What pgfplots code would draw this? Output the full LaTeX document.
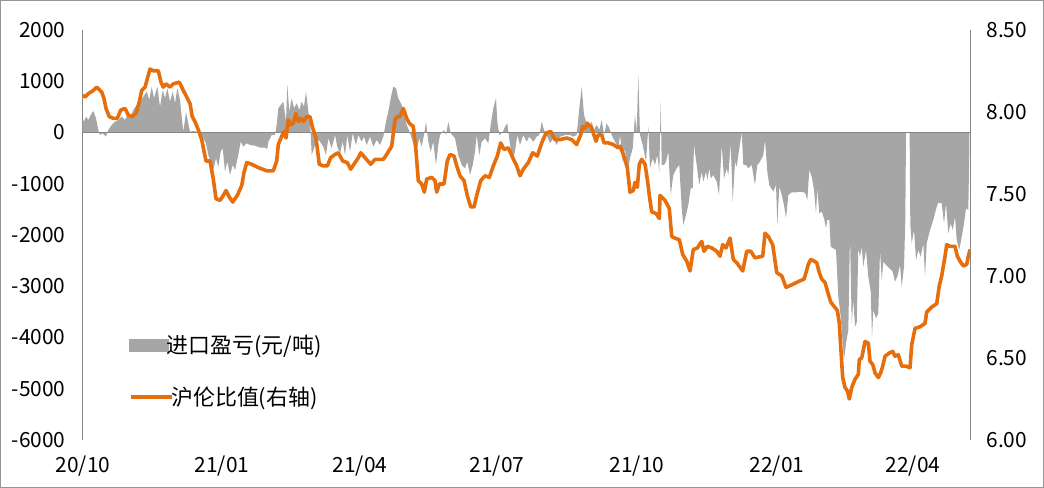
\documentclass[border=0pt]{standalone}
\usepackage{pgfplots}
\usepackage{pgfplotstable}
\pgfplotsset{compat=1.18}
\usepackage{fontspec}
\setmainfont{Noto Sans CJK SC}
\definecolor{areagray}{RGB}{166,166,166}
\definecolor{lineorange}{RGB}{230,110,12}
\definecolor{axgray}{RGB}{134,134,134}
\definecolor{framegray}{RGB}{150,150,150}

\pgfplotstableread{
x y
0.7 273
2 207
4 304
6.3 240
8.7 337
11.3 415
14 273
16.3 45
18 -53
20.7 -20
24 -86
26.3 45
29.7 142
33 207
36.3 240
39.7 304
43 240
45.3 337
48 273
51.3 435
54.7 532
58 597
61.3 694
64.7 792
67.3 630
69.7 889
72 663
75.3 889
78 499
80.7 825
83 663
85.3 858
88 597
90.7 792
93 565
95.3 858
98 630
99.7 304
101.3 12
104 390
106.3 175
108 12
111.3 25
114.7 12
118 0
121.3 -117
124 -214
126.3 -443
128.7 -573
131.3 -735
134 -507
136.3 -671
138.7 -378
140.7 -312
143 -768
145.3 -573
148 -833
150.7 -638
153 -735
156.3 -443
158.7 -183
161.3 -281
164.7 -214
168 -248
173 -261
178 -300
183 -300
185.3 -326
186.3 -183
189.7 -53
193 -53
194.7 142
196.3 468
198.7 532
201.3 597
204 207
205.3 936
207.3 402
209.7 663
212 468
214.7 565
217.3 435
219.7 597
222 499
224 792
226.3 402
228 240
229.7 -443
232 -312
234.7 -117
238 -183
241.3 -281
244 -443
246.3 -117
249.7 -312
253 -53
255.3 -281
258 -410
260.7 -183
263 -443
265.3 -53
268 -378
270.7 -20
274 -248
276.3 -53
279.7 -183
282 -86
284.7 -248
288 -86
291.3 -281
294.7 -150
298 -248
301.3 -86
304 207
306.3 402
308.7 663
311.3 889
314 858
316.3 663
319.7 532
322 370
324.7 142
327.3 20
329.7 -117
332 -248
334.7 -345
337.3 -117
339.7 -281
342 -53
344 207
346.3 -183
348.7 -378
351.3 -183
354 -638
356.3 -248
358 -53
362 45
364 -53
366.3 207
368.7 -20
373 -117
376.3 -443
379.7 -638
383 -702
385.3 -573
388 -833
390.7 -638
393 -378
394.7 -53
397.3 -443
399.7 -183
403 -117
406.3 -214
408.7 142
411.3 468
414 663
415.3 207
417.3 -53
420.7 0
423 109
425.3 175
428 -248
430.7 -507
433 -378
435.3 -53
438 -248
441.3 -53
444.7 -183
447.3 -86
451.3 -183
454.7 -86
457.3 -53
459.7 207
462 45
464.7 -53
468 -214
471.3 -117
474.7 -248
478 -86
483 -53
488 -53
491.3 -86
494.7 -53
497.3 468
499.7 889
502 337
504.7 175
507.3 109
509.7 207
512 45
514.7 142
517.3 45
519.7 240
522 -53
524.7 175
527.3 78
529.7 -53
533 -183
536.3 -312
538 -53
540.7 -573
543 -312
545.3 -833
548 -507
550.7 -312
553 337
554.7 0
556.3 1117
558 -53
560.7 -248
564 -573
566.3 109
568 -702
570.7 -507
573 -638
575.3 -443
577.3 -768
578.7 597
579.7 -638
582 -638
584 -573
586.3 -378
588.7 -1223
591.3 -833
594.7 -702
597.3 -638
599.7 -1482
601.3 -1808
604 -1613
606.3 -1418
608.7 -1092
610.7 -1092
612 -248
614.7 -638
617.3 -1028
619.7 -768
621.3 -963
624 -768
625.3 -931
627.3 -702
628.7 -898
631.3 -833
634.7 -963
637 -1223
639.7 -248
642 -898
644.7 -702
646.3 -833
648.7 -214
650.7 -1353
653 -573
654.7 -671
657.3 -312
659.7 0
661.3 -638
664 -638
666.3 -702
669.7 -638
673 -1028
675.3 -638
678 -573
681.3 -443
683 -150
685.3 -768
687.3 -1028
691.3 -1158
694 -1028
695.3 -1808
697.3 -1060
699.7 -1223
702 -1418
704 -1677
706.3 -1223
709.7 -1170
714.7 -1170
718 -1158
723 -1178
725.3 -1320
727.3 -735
729.7 -866
732 -1125
734 -1580
735.3 -1092
737.3 -1580
739.7 -1548
742 -1677
744 -1872
745.3 -1710
747.3 -1710
748.7 -2231
751.3 -2262
754 -2295
756.3 -3206
758.7 -3596
760.7 -4115
762 -4440
764 -4115
766.3 -3855
768 -2003
769.7 -3725
771.3 -3270
773 -3790
774.7 -3725
776.3 -2262
778 -2426
779.7 -2231
781.3 -2621
784 -2295
786.3 -2816
788.7 -3108
790 -3986
791.3 -3465
794 -3627
796.3 -3530
798 -2295
799.7 -2880
801.3 -2523
804 -2588
807.3 -2652
810.7 -2718
813 -2913
815.3 -2816
818 -2588
819.7 -3011
822 -2621
823.3 -1710
824 0
827.6 0
828.3 -1800
829.7 -2165
832 -1905
834 -2490
836.3 -2295
838.7 -2426
841.3 -2165
843 -2816
844.7 -2165
848 -1905
851.3 -1710
854.7 -1451
856.3 -1373
859.7 -1385
862 -1775
864 -1385
866.3 -1970
868.7 -1775
870.7 -1905
873 -1646
874.7 -2100
877.3 -2295
879.7 -2036
882 -1775
884 -1482
886.3 -1515
887.3 -345
}\graydata

\pgfplotstableread{
x y
0.7 8.10
3 8.09
6.3 8.11
11.3 8.13
14.7 8.15
19.7 8.12
22 8.08
24 8.02
27.3 7.97
31.3 7.96
35.3 7.96
38.7 8.01
43 8.02
46.3 7.98
49.7 7.97
54 7.99
57.3 8.06
59.7 8.13
63 8.15
65.3 8.20
68 8.26
71.3 8.25
76.3 8.25
79 8.18
81.3 8.15
84 8.17
88 8.15
91.3 8.17
97.3 8.18
101.3 8.13
104.7 8.09
108 8.05
110.3 7.97
113 7.94
116.3 7.89
119.7 7.83
122 7.76
124 7.70
128 7.70
131.3 7.59
134 7.47
138 7.46
141.3 7.49
144 7.52
147.3 7.48
150.7 7.45
155.3 7.49
159.7 7.55
162 7.63
164.7 7.69
169.7 7.68
176.3 7.66
184.7 7.64
191.3 7.64
194.7 7.70
196.3 7.80
199.7 7.85
202 7.88
204 7.84
206.3 7.95
208.7 7.92
211.3 7.93
214 7.99
216.3 7.94
218.7 7.96
221.3 7.94
224.7 7.97
228 7.97
230.7 7.90
234 7.84
237.3 7.68
241.3 7.67
245.3 7.67
248.7 7.72
253 7.74
256.3 7.75
260.7 7.70
265.3 7.69
268.7 7.65
273 7.69
276.3 7.72
278.7 7.75
283 7.72
288.7 7.68
293 7.71
301.3 7.71
304.7 7.74
309.7 7.79
313 7.95
315.3 7.97
318 7.97
321.3 8.02
324.7 7.96
327.3 7.93
331.3 7.91
334 7.76
336.3 7.58
339.7 7.56
342.3 7.51
344.7 7.59
349.7 7.60
353 7.58
354.7 7.51
357.3 7.56
362 7.56
365.3 7.70
368 7.74
372 7.73
374.7 7.67
378 7.61
382 7.58
385.3 7.49
388.7 7.42
392 7.42
394.7 7.49
398.7 7.58
403 7.61
407.3 7.60
411.3 7.67
415.3 7.73
418.7 7.81
422 7.77
426.3 7.78
430.7 7.72
434.7 7.67
438 7.61
441.3 7.65
446.3 7.69
450.7 7.75
455.3 7.73
459.7 7.81
464 7.87
468.7 7.88
473 7.83
478 7.83
484.7 7.84
489.7 7.83
494.7 7.80
498.7 7.86
500.7 7.91
503 7.90
505.3 7.93
509.7 7.90
514 7.82
516.3 7.86
519.7 7.86
522 7.81
526.3 7.81
531.3 7.80
536.3 7.78
538 7.79
541.3 7.74
545.3 7.66
548 7.51
551.3 7.52
553 7.57
555.3 7.54
557.3 7.68
559.7 7.71
563 7.68
565.3 7.59
567.3 7.49
569.7 7.39
574 7.38
577.3 7.35
578 7.49
583 7.46
587.3 7.41
589.7 7.24
593 7.23
597.3 7.22
600.7 7.13
604.7 7.09
608 7.03
611.3 7.16
615.3 7.17
619.7 7.21
622 7.15
625.3 7.18
629.7 7.17
634.7 7.15
638 7.12
640.7 7.19
644 7.17
648 7.23
651.3 7.10
654.7 7.08
660.7 7.03
664.7 7.15
668.7 7.15
673 7.11
680.7 7.12
683 7.26
686.3 7.24
690.7 7.19
694.7 7.02
699.7 7.00
704 6.93
711.3 6.95
718 6.97
722 6.98
724 7.02
726.3 7.07
728.7 7.10
732 7.09
734.7 7.08
737.3 7.02
739.7 6.98
743 6.96
745.3 6.91
748.7 6.84
751.3 6.82
755.3 6.79
757.3 6.71
759.7 6.47
760.7 6.38
763 6.32
765.3 6.30
767.3 6.25
769.7 6.32
773 6.37
776.3 6.40
777.3 6.49
779.7 6.50
783 6.60
786.3 6.59
788 6.48
790.7 6.46
793 6.41
796.3 6.38
798.7 6.41
800.7 6.45
803 6.51
807.3 6.53
810.7 6.54
813 6.51
816.3 6.52
819.7 6.45
824 6.45
828 6.44
829.7 6.58
833 6.68
838 6.69
843 6.71
844.7 6.78
849.7 6.81
854.7 6.83
857.3 6.94
859.7 7.00
863 7.12
864.7 7.19
868 7.18
873 7.18
875.3 7.12
878 7.09
881.3 7.06
884.7 7.07
886.3 7.12
888 7.16
}\orangedata

\begin{document}
\begin{tikzpicture}[x=1bp,y=1bp,font=\fontsize{21}{25}\selectfont]
\useasboundingbox (0,0) rectangle (1044,488);
\draw[framegray, line width=1.2bp] (0.6,0.6) rectangle (1043.4,487.4);
\pgfplotsset{every axis/.append style={
  scale only axis, width=888bp, height=410.3bp,
  at={(82bp,48bp)}, anchor=south west,
  xmin=0, xmax=888,
  font=\fontsize{21}{25}\selectfont,
  /pgf/number format/assume math mode=true,
  /pgf/number format/1000 sep={},
  major tick length=0pt,
  axis line style={axgray, line width=1bp},
  tick label style={black},
}}
\begin{axis}[
  axis y line*=left, axis x line*=bottom,
  x axis line style={draw=none},
  ymin=-6000, ymax=2000,
  ytick={-6000,-5000,-4000,-3000,-2000,-1000,0,1000,2000},
  scaled y ticks=false,
  xtick={1,140,278,415,555,695,831},
  xticklabels={20/10,21/01,21/04,21/07,21/10,22/01,22/04},
  yticklabel style={xshift=-13bp},
  xticklabel style={yshift=-12bp},
  legend style={at={(rel axis cs:0.0526,0.231)}, anchor=west, draw=none, fill=none,
    inner sep=0pt, outer sep=0pt, font=\fontsize{22}{26}\selectfont,
    /tikz/every odd column/.append style={column sep=-4bp}},
  legend cell align=left,
]
\addplot[fill=areagray, draw=none,
  legend image code/.code={\fill[areagray] (0bp,-6.5bp) rectangle (40bp,6.5bp);}]
  table[x=x,y=y]{\graydata} \closedcycle;
\addlegendentry{进口盈亏(元/吨)}
\draw[axgray, line width=1bp] (axis cs:0,0) -- (axis cs:888,0);
\end{axis}
\begin{axis}[
  axis y line*=right, axis x line=none,
  ymin=6, ymax=8.5,
  ytick={6,6.5,7,7.5,8,8.5},
  yticklabel style={/pgf/number format/.cd, fixed, fixed zerofill, precision=2, /tikz/.cd, xshift=13bp},
  legend style={at={(rel axis cs:0.0526,0.1048)}, anchor=west, draw=none, fill=none,
    inner sep=0pt, outer sep=0pt, font=\fontsize{22}{26}\selectfont,
    /tikz/every odd column/.append style={column sep=-4bp}},
  legend cell align=left,
]
\addplot[lineorange, line width=3.6bp, line join=round,
  legend image code/.code={\draw[lineorange, line width=3.6bp] (0bp,0bp) -- (41bp,0bp);}]
  table[x=x,y=y]{\orangedata};
\addlegendentry{沪伦比值(右轴)}
\end{axis}
\end{tikzpicture}
\end{document}
